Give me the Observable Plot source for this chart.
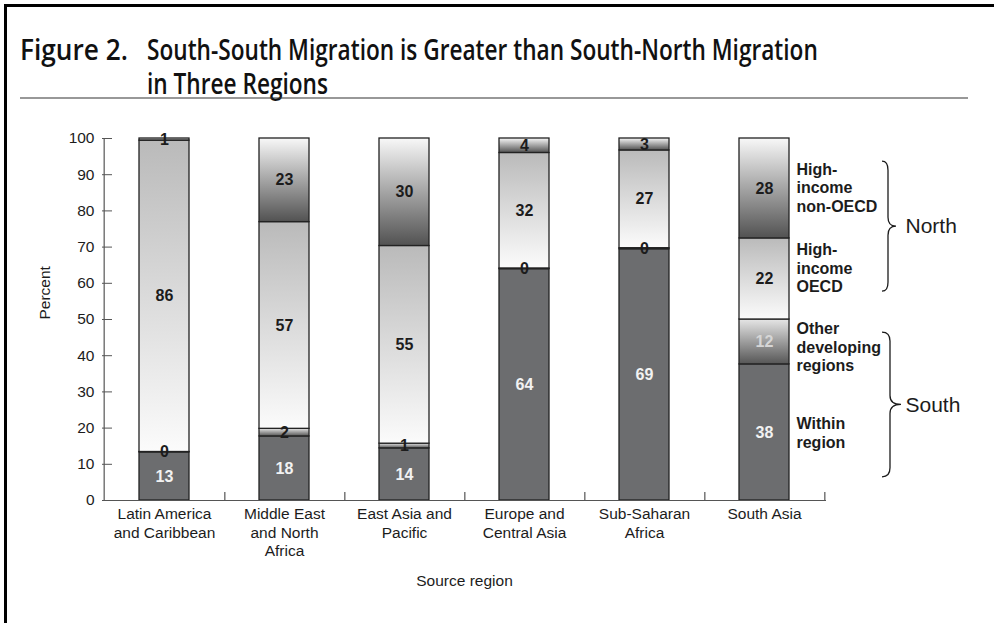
<!DOCTYPE html>
<html>
<head>
<meta charset="utf-8">
<script src="https://cdn.jsdelivr.net/npm/d3@7"></script>
<script src="https://cdn.jsdelivr.net/npm/@observablehq/plot@0.6"></script>
<style>
  html, body { margin: 0; padding: 0; background: #fff; }
  #wrap { position: relative; width: 994px; height: 623px; overflow: hidden; background: #fff; }
  #wrap > svg, #wrap > div { position: absolute; }
</style>
</head>
<body>
<div id="wrap">
  <svg id="titleSvg" width="994" height="110" style="left:0;top:0;">
    <text id="tFig" x="0" y="0" font-family="Open Sans, Noto Sans, sans-serif" font-weight="600" font-size="28" fill="#111">Figure 2.</text>
    <text id="tL1" x="0" y="0" font-family="Open Sans, Noto Sans, sans-serif" font-weight="600" font-size="28" fill="#111">South-South Migration is Greater than South-North Migration</text>
    <text id="tL2" x="0" y="0" font-family="Open Sans, Noto Sans, sans-serif" font-weight="600" font-size="28" fill="#111">in Three Regions</text>
    <line x1="20" x2="968" y1="98" y2="98" stroke="#333" stroke-width="1.2"/>
  </svg>
  <div style="left:4px;top:4px;width:990px;height:3px;background:#000;"></div>
  <div style="left:4px;top:4px;width:3px;height:619px;background:#000;"></div>
</div>
<script>
// ---------- data ----------
const regions = ["Latin America and Caribbean", "Middle East and North Africa", "East Asia and Pacific", "Europe and Central Asia", "Sub-Saharan Africa", "South Asia"];
const regionTickLabels = ["Latin America\nand Caribbean", "Middle East\nand North\nAfrica", "East Asia and\nPacific", "Europe and\nCentral Asia", "Sub-Saharan\nAfrica", "South Asia"];
const seriesNames = ["Within region", "Other developing regions", "High-income OECD", "High-income non-OECD"];
const seriesLabels = ["Within\nregion", "Other\ndeveloping\nregions", "High-\nincome\nOECD", "High-\nincome\nnon-OECD"];
const withinRegion = [13.3, 17.7, 14.4, 63.9, 69.4, 37.6];
const otherDeveloping = [0.1, 2.1, 1.3, 0.2, 0.3, 12.4];
const highIncomeOECD = [86.0, 57.1, 54.6, 31.9, 27.0, 22.4];
const highIncomeNonOECD = [0.6, 23.1, 29.7, 4.0, 3.3, 27.6];
const yTicks = [0, 10, 20, 30, 40, 50, 60, 70, 80, 90, 100];
const groupLabels = ["North", "South"];
const groupTop = [93.6, 46.4];
const groupBottom = [57.7, 6.4];

const seriesValues = [withinRegion, otherDeveloping, highIncomeOECD, highIncomeNonOECD];
const table = regions.flatMap((r, i) => seriesNames.map((s, j) => ({region: r, series: s, value: seriesValues[j][i]})));
const groups = groupLabels.map((g, i) => ({label: g, top: groupTop[i], bottom: groupBottom[i]}));

const W = 994, H = 623, mL = 102, mR = 168, mT = 138, mB = 123;
const step = (W - mL - mR) / regions.length;
const padIn = 0.586;
const isLight = d => d.series === "Within region" || (d.series === "Other developing regions" && d.value > 5);
const labelDy = {"Within region": 0, "Other developing regions": 5, "High-income OECD": -11, "High-income non-OECD": -1};
const ink = "#1c1c1c";

const chart = Plot.plot({
  width: W, height: H,
  marginLeft: mL, marginRight: mR, marginTop: mT, marginBottom: mB,
  style: {fontFamily: "Liberation Sans, Arial, Helvetica, sans-serif", fontSize: "15px", background: "transparent", overflow: "visible"},
  x: {domain: regions, paddingInner: padIn, paddingOuter: padIn / 2, axis: null},
  y: {domain: [0, 100], axis: null},
  color: {domain: seriesNames, range: ["#6c6d6f", "url(#gOther)", "url(#gOecd)", "url(#gNon)"]},
  marks: [
    Plot.barY(table, {x: "region", y: "value", fill: "series", stroke: "#222", strokeWidth: 1.3}),
    Plot.text(table, Plot.stackY({x: "region", y: "value", text: d => isLight(d) ? null : String(Math.round(d.value)), fill: ink, fontWeight: "bold", fontSize: 16})),
    Plot.text(table, Plot.stackY({x: "region", y: "value", text: d => (d.series === "Within region") ? String(Math.round(d.value)) : null, fill: "#f2f2f2", fontWeight: "bold", fontSize: 16})),
    Plot.text(table, Plot.stackY({x: "region", y: "value", text: d => (d.series === "Other developing regions" && d.value > 5) ? String(Math.round(d.value)) : null, fill: "#d6d6d6", fontWeight: "bold", fontSize: 16})),
    ...seriesNames.map((s, j) => Plot.text(table, Plot.stackY({
      x: "region", y: "value",
      text: d => (d.region === "South Asia" && d.series === s) ? seriesLabels[j] : null,
      dx: step * (1 - padIn) / 2 + 7, dy: labelDy[s], textAnchor: "start", lineHeight: 1.16,
      fontWeight: "bold", fontSize: 16, fill: ink
    }))),
    Plot.text(groups, {x: () => "South Asia", y: d => (d.top + d.bottom) / 2, text: "label", dx: 141, textAnchor: "start", fontSize: 21, fill: ink}),
    // axes
    Plot.ruleY([0], {stroke: "#555", strokeWidth: 1.2}),
    Plot.ruleX([regions[0]], {x: d => d, y1: 0, y2: 100, dx: -step / 2, stroke: "#555", strokeWidth: 1.2}),
    Plot.ruleX(regions, {x: d => d, y1: 0, y2: 100 * 8 / (H - mT - mB), dx: step / 2, stroke: "#555", strokeWidth: 1.2}),
    Plot.axisY({ticks: yTicks, tickSize: 10, dx: 10, tickPadding: 8, label: null, stroke: "#555", fill: ink, fontSize: 15.5}),
    Plot.text(regions, {x: d => d, text: (d, i) => regionTickLabels[i], frameAnchor: "bottom", lineAnchor: "top", dy: 6, lineHeight: 1.17, fontSize: 15.5, fill: ink}),
    Plot.text(["Source region"], {frameAnchor: "bottom", dy: 85, fontSize: 15.5, fill: ink}),
    Plot.text(["Percent"], {frameAnchor: "left", dx: -57, rotate: -90, fontSize: 15.5, fill: ink})
  ]
});
chart.style.left = "0px";
chart.style.top = "0px";
chart.style.position = "absolute";
document.getElementById("wrap").insertBefore(chart, document.getElementById("wrap").children[1]);

// gradients
const svg = d3.select(chart);
const defs = svg.insert("defs", ":first-child");
function grad(id, stops) {
  const g = defs.append("linearGradient").attr("id", id).attr("x1", 0).attr("y1", 0).attr("x2", 0).attr("y2", 1);
  stops.forEach(([o, c]) => g.append("stop").attr("offset", o).attr("stop-color", c));
}
grad("gOther", [[0, "#e6e6e6"], [1, "#565656"]]);
grad("gOecd", [[0, "#bababa"], [1, "#fbfbfb"]]);
grad("gNon", [[0, "#f8f8f8"], [1, "#525252"]]);

// braces
const ys = chart.scale("y"), xs = chart.scale("x");
const barRight = xs.apply("South Asia") + xs.bandwidth;
const braceGeom = [{end: 93, spine: 99, point: 107}, {end: 93, spine: 101, point: 112}];
groups.forEach((g, i) => {
  const y0 = ys.apply(g.top), y1 = ys.apply(g.bottom), ym = (y0 + y1) / 2;
  const ex = barRight + braceGeom[i].end, sx = barRight + braceGeom[i].spine, px = barRight + braceGeom[i].point;
  const r = 9;
  const d = `M${ex},${y0} Q${sx},${y0} ${sx},${y0 + r} L${sx},${ym - r} Q${sx},${ym} ${px},${ym} Q${sx},${ym} ${sx},${ym + r} L${sx},${y1 - r} Q${sx},${y1} ${ex},${y1}`;
  svg.append("path").attr("d", d).attr("fill", "none").attr("stroke", ink).attr("stroke-width", 1.3);
});

// title: condense horizontally to the reference line widths
function place(id, x, y, w) {
  const el = document.getElementById(id);
  const len = el.getComputedTextLength();
  const f = w / len;
  el.setAttribute("transform", `translate(${x},${y}) scale(${f},1)`);
  return f;
}
const f = place("tL1", 147, 60, 671);
place("tFig", 20, 60, 108);
document.getElementById("tL2").setAttribute("transform", `translate(147,94) scale(${f},1)`);
</script>
</body>
</html>
